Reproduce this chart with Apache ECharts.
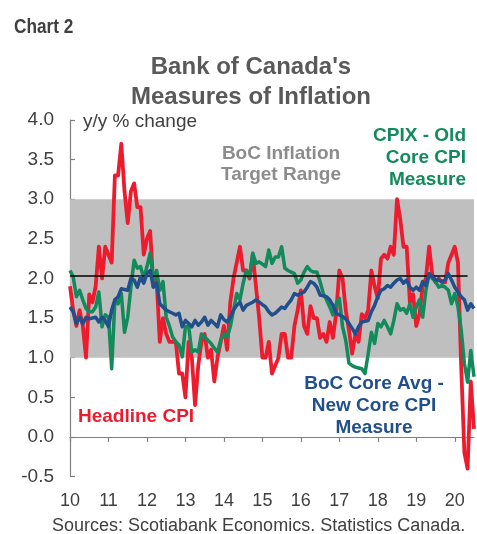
<!DOCTYPE html>
<html>
<head>
<meta charset="utf-8">
<title>Bank of Canada's Measures of Inflation</title>
<script src="https://cdn.jsdelivr.net/npm/echarts@6/dist/echarts.min.js"></script>
<style>
  html, body { margin: 0; padding: 0; background: #fff; }
  #chart { width: 477px; height: 534px; }
</style>
</head>
<body>
<div id="chart"></div>
<script>
// year tick labels (Jan of each year), monthly data Jan 2010 - Jul 2020
var yearLabels = ['10', '11', '12', '13', '14', '15', '16', '17', '18', '19', '20'];
var yTicks = [-0.5, 0.0, 0.5, 1.0, 1.5, 2.0, 2.5, 3.0, 3.5, 4.0];

// Headline CPI, y/y %
var headline = [
  1.9, 1.6, 1.4, 1.6, 1.4, 1.0, 1.8, 1.7, 1.9, 2.4, 2.0, 2.4,
  2.3, 2.2, 3.3, 3.3, 3.7, 3.1, 2.7, 3.1, 3.2, 2.9, 2.9, 2.3,
  2.5, 2.6, 1.9, 2.0, 1.2, 1.5, 1.3, 1.2, 1.2, 1.2, 0.8, 0.8,
  0.5, 1.2, 1.0, 0.4, 0.9, 1.2, 1.3, 1.0, 1.1, 0.7, 1.0, 1.2,
  1.4, 1.1, 1.7, 2.0, 2.2, 2.4, 2.1, 2.1, 2.0, 2.3, 1.9, 1.5,
  1.0, 1.0, 1.2, 0.8, 0.9, 1.0, 1.3, 1.3, 1.0, 1.0, 1.4, 1.6,
  1.85, 1.4, 1.3, 1.65, 1.5, 1.5, 1.25, 1.3, 1.2, 1.45, 1.25, 1.55,
  2.1, 2.0, 1.6, 1.35, 1.05, 1.3, 1.2, 1.55, 1.5, 1.6, 2.1, 1.9,
  1.75, 2.25, 2.3, 2.25, 2.4, 2.3, 3.0, 2.75, 2.4, 2.4, 1.7, 1.8,
  1.4, 1.55, 1.9, 2.0, 2.4, 2.05, 1.95, 2.0, 1.95, 1.95, 2.2, 2.3,
  2.4, 2.2, 0.9, -0.2, -0.4, 0.7, 0.1
];

// CPIX - old core CPI measure
var cpix = [
  2.10, 2.02, 1.77, 1.85, 1.73, 1.62, 1.58, 1.58, 1.64, 1.83, 1.39, 1.54,
  1.51, 0.86, 1.73, 1.68, 1.81, 1.32, 1.51, 1.89, 2.23, 2.13, 2.15, 2.00,
  2.15, 2.32, 1.98, 2.10, 1.85, 1.96, 1.51, 1.40, 1.26, 1.20, 1.16, 1.01,
  1.39, 1.40, 1.07, 1.10, 1.07, 1.30, 1.26, 1.22, 1.18, 1.12, 1.07, 1.22,
  1.30, 1.26, 1.39, 1.60, 1.81, 1.73, 1.94, 2.10, 2.02, 2.32, 2.19, 2.21,
  2.18, 2.15, 2.36, 2.19, 2.27, 2.27, 2.40, 2.13, 2.10, 2.08, 2.06, 1.94,
  1.98, 2.08, 2.15, 2.10, 2.08, 2.08, 1.96, 1.81, 1.73, 1.64, 1.54, 1.68,
  1.75, 1.39, 1.22, 0.93, 0.90, 0.88, 0.87, 0.86, 0.80, 1.05, 1.32, 1.18,
  1.43, 1.39, 1.47, 1.39, 1.30, 1.47, 1.68, 1.60, 1.62, 1.56, 1.68, 1.51,
  1.64, 1.73, 1.51, 1.85, 2.06, 2.00, 1.96, 1.89, 1.91, 1.89, 1.85, 1.68,
  1.81, 1.64, 1.35, 0.93, 0.69, 1.09, 0.76
];

// BoC core average - new core CPI measure
var coreAvg = [
  1.64, 1.58, 1.43, 1.51, 1.43, 1.51, 1.49, 1.50, 1.51, 1.45, 1.51, 1.47,
  1.39, 1.60, 1.73, 1.77, 1.87, 1.86, 1.85, 2.00, 1.98, 1.89, 2.02, 1.94,
  2.06, 2.10, 1.89, 1.94, 1.68, 1.64, 1.60, 1.58, 1.56, 1.54, 1.56, 1.39,
  1.47, 1.43, 1.39, 1.47, 1.41, 1.45, 1.51, 1.41, 1.47, 1.43, 1.39, 1.54,
  1.48, 1.45, 1.51, 1.60, 1.66, 1.70, 1.60, 1.66, 1.68, 1.70, 1.73, 1.70,
  1.67, 1.64, 1.58, 1.54, 1.56, 1.60, 1.64, 1.62, 1.68, 1.73, 1.81, 1.79,
  1.81, 1.83, 1.89, 1.96, 1.94, 1.89, 1.79, 1.78, 1.77, 1.73, 1.66, 1.56,
  1.54, 1.52, 1.49, 1.43, 1.37, 1.30, 1.39, 1.45, 1.46, 1.47, 1.58, 1.66,
  1.77, 1.85, 1.87, 1.91, 1.89, 1.94, 1.98, 2.00, 1.94, 1.98, 1.89, 1.85,
  1.89, 1.85, 1.96, 1.91, 2.06, 2.02, 1.98, 1.98, 1.96, 1.98, 2.06, 1.98,
  1.89, 1.83, 1.77, 1.73, 1.60, 1.68, 1.62
];

var targetRange = [1.0, 3.0];
var targetLine = 2.03;

// month categories "yy-mm"
var months = [];
yearLabels.forEach(function (yy) {
  for (var m = 1; m <= 12; m++) {
    if (months.length < headline.length) months.push(yy + '-' + (m < 10 ? '0' + m : m));
  }
});

var isYearStart = function (i) { return i % 12 === 0; };
var FONT = '"Liberation Sans", Arial, sans-serif';

var myChart = echarts.init(document.getElementById('chart'));
var option = {
  animation: false,
  backgroundColor: '#fff',
  textStyle: { fontFamily: FONT },
  grid: { left: 70, top: 120, width: 404, height: 356.5, containLabel: false },
  xAxis: [
    {
      // axis line through zero with year ticks
      type: 'category',
      data: months,
      boundaryGap: false,
      axisLine: { onZero: true, lineStyle: { color: '#808080', width: 1.2 } },
      axisTick: { interval: isYearStart, length: 5, lineStyle: { color: '#808080', width: 1.2 } },
      axisLabel: { show: false },
      splitLine: { show: false }
    },
    {
      // year labels at the bottom
      type: 'category',
      data: months,
      boundaryGap: false,
      position: 'bottom',
      axisLine: { show: false, onZero: false },
      axisTick: { show: false },
      axisLabel: {
        interval: isYearStart,
        margin: 16,
        color: '#404040',
        fontSize: 18,
        fontFamily: FONT,
        formatter: function (v) { return v.split('-')[0]; }
      },
      splitLine: { show: false }
    }
  ],
  yAxis: {
    type: 'value',
    min: yTicks[0],
    max: yTicks[yTicks.length - 1],
    interval: 0.5,
    axisLine: { show: true, lineStyle: { color: '#808080', width: 1.2 } },
    axisTick: { show: true, inside: true, length: 5, lineStyle: { color: '#808080', width: 1.2 } },
    axisLabel: {
      margin: 16,
      color: '#404040',
      fontSize: 19,
      fontFamily: FONT,
      formatter: function (v) { return v.toFixed(1); }
    },
    splitLine: { show: false }
  },
  series: [
    {
      name: 'target',
      type: 'line',
      data: [],
      z: 1,
      silent: true,
      markArea: {
        silent: true,
        itemStyle: { color: '#bfbfbf' },
        data: [[{ yAxis: targetRange[0] }, { yAxis: targetRange[1] }]]
      }
    },
    {
      name: 'Headline CPI',
      type: 'line',
      data: headline,
      z: 3,
      symbol: 'none',
      lineStyle: { color: '#ec1c2e', width: 3.8, join: 'round' }
    },
    {
      name: 'CPIX',
      type: 'line',
      data: cpix,
      z: 4,
      symbol: 'none',
      lineStyle: { color: '#138a5c', width: 3.5, join: 'round' }
    },
    {
      name: 'BoC Core Avg',
      type: 'line',
      data: coreAvg,
      z: 5,
      symbol: 'none',
      lineStyle: { color: '#214f8b', width: 3.5, join: 'round' },
      markLine: {
        silent: true,
        symbol: 'none',
        label: { show: false },
        lineStyle: { color: '#000', width: 1.5, type: 'solid' },
        data: [[{ coord: [months[0], targetLine] }, { coord: [months[124], targetLine] }]]
      }
    }
  ],
  graphic: [
    {
      type: 'text', x: 14, y: 27, scaleX: 0.86,
      style: { text: 'Chart 2', fill: '#404040', font: 'bold 20px ' + FONT, textVerticalAlign: 'middle' }
    },
    {
      type: 'text', x: 251, y: 82,
      style: { text: "Bank of Canada's\nMeasures of Inflation", fill: '#595959', font: 'bold 24px ' + FONT, lineHeight: 30, textAlign: 'center', textVerticalAlign: 'middle' }
    },
    {
      type: 'text', x: 83, y: 122,
      style: { text: 'y/y % change', fill: '#404040', font: '19px ' + FONT, textVerticalAlign: 'middle' }
    },
    {
      type: 'text', x: 281, y: 164, z: 10,
      style: { text: 'BoC Inflation\nTarget Range', fill: '#8c8c8c', font: 'bold 19px ' + FONT, lineHeight: 21, textAlign: 'center', textVerticalAlign: 'middle' }
    },
    {
      type: 'text', x: 466, y: 158, z: 10,
      style: { text: 'CPIX - Old\nCore CPI\nMeasure', fill: '#138a5c', font: 'bold 19px ' + FONT, lineHeight: 22, textAlign: 'right', textVerticalAlign: 'middle' }
    },
    {
      type: 'text', x: 78, y: 417, z: 10,
      style: { text: 'Headline CPI', fill: '#ec1c2e', font: 'bold 19px ' + FONT, textVerticalAlign: 'middle' }
    },
    {
      type: 'text', x: 374, y: 406, z: 10,
      style: { text: 'BoC Core Avg -\nNew Core CPI\nMeasure', fill: '#214f8b', font: 'bold 19px ' + FONT, lineHeight: 22, textAlign: 'center', textVerticalAlign: 'middle' }
    },
    {
      type: 'text', x: 52, y: 526,
      style: { text: 'Sources: Scotiabank Economics. Statistics Canada.', fill: '#404040', font: '18px ' + FONT, textVerticalAlign: 'middle' }
    }
  ]
};
myChart.setOption(option);
</script>
</body>
</html>
